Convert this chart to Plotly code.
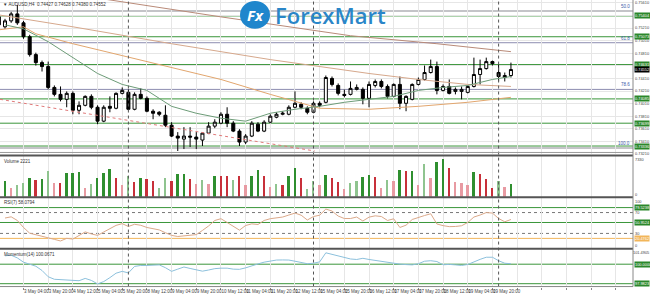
import plotly.graph_objects as go

# ---------------- data ----------------
bars = list(range(-1, 83))
opens = [0.75389, 0.75231, 0.75325, 0.75436, 0.75294, 0.75073, 0.74789, 0.74662, 0.74599, 0.74267,
         0.74157, 0.74078, 0.74173, 0.73904, 0.73983, 0.74125, 0.73952, 0.73731, 0.73967, 0.73936,
         0.74173, 0.74189, 0.73920, 0.74157, 0.74094, 0.73889, 0.73873, 0.73825, 0.73667, 0.73494,
         0.73446, 0.73494, 0.73478, 0.73431, 0.73541, 0.73652, 0.73699, 0.73841, 0.73699, 0.73573,
         0.73399, 0.73494, 0.73683, 0.73573, 0.73715, 0.73794, 0.73841, 0.73841, 0.73952, 0.73999,
         0.73936, 0.73873, 0.74015, 0.74031, 0.74410, 0.74299, 0.74157, 0.74157, 0.74236, 0.74236,
         0.74094, 0.74299, 0.74362, 0.74283, 0.74125, 0.74315, 0.74015, 0.74078, 0.74315, 0.74394,
         0.74504, 0.74599, 0.74220, 0.74283, 0.74204, 0.74204, 0.74189, 0.74283, 0.74473, 0.74567,
         0.74678, 0.74504, 0.74425, 0.74457]
highs = [0.75420, 0.75357, 0.75468, 0.75578, 0.75325, 0.75104, 0.74820, 0.74694, 0.74678, 0.74299,
         0.74283, 0.74204, 0.74204, 0.74046, 0.74141, 0.74157, 0.73983, 0.73983, 0.74125, 0.74189,
         0.74267, 0.74236, 0.74189, 0.74252, 0.74125, 0.73920, 0.73889, 0.73983, 0.73715, 0.73557,
         0.73636, 0.73636, 0.73557, 0.73557, 0.73715, 0.73762, 0.73873, 0.73952, 0.73731, 0.73604,
         0.73525, 0.73731, 0.73715, 0.73746, 0.73841, 0.73873, 0.73889, 0.73983, 0.74204, 0.74031,
         0.73967, 0.74046, 0.74046, 0.74457, 0.74441, 0.74331, 0.74236, 0.74362, 0.74315, 0.74267,
         0.74362, 0.74394, 0.74394, 0.74315, 0.74331, 0.74441, 0.74141, 0.74331, 0.74425, 0.74615,
         0.74710, 0.74678, 0.74315, 0.74394, 0.74267, 0.74283, 0.74299, 0.74741, 0.74710, 0.74741,
         0.74694, 0.74631, 0.74504, 0.74662]
lows = [0.75231, 0.75199, 0.75294, 0.75262, 0.75041, 0.74757, 0.74615, 0.74520, 0.74236, 0.74125,
        0.74046, 0.73952, 0.73841, 0.73841, 0.73967, 0.73920, 0.73683, 0.73715, 0.73873, 0.73920,
        0.74157, 0.73904, 0.73904, 0.74078, 0.73873, 0.73762, 0.73810, 0.73636, 0.73478, 0.73257,
        0.73288, 0.73320, 0.73288, 0.73336, 0.73525, 0.73620, 0.73683, 0.73636, 0.73557, 0.73336,
        0.73367, 0.73478, 0.73557, 0.73557, 0.73699, 0.73778, 0.73825, 0.73825, 0.73936, 0.73920,
        0.73841, 0.73857, 0.73952, 0.74015, 0.74283, 0.74141, 0.74110, 0.74141, 0.74220, 0.73999,
        0.73952, 0.74267, 0.74252, 0.74094, 0.74110, 0.73920, 0.73889, 0.74062, 0.74299, 0.74378,
        0.74489, 0.74157, 0.74204, 0.74157, 0.74157, 0.74078, 0.74173, 0.74267, 0.74315, 0.74552,
        0.74615, 0.74362, 0.74362, 0.74425]
closes = [0.75262, 0.75325, 0.75436, 0.75294, 0.75073, 0.74789, 0.74662, 0.74599, 0.74267, 0.74157,
          0.74078, 0.74173, 0.73904, 0.73983, 0.74125, 0.73952, 0.73731, 0.73952, 0.73936, 0.74173,
          0.74220, 0.73920, 0.74157, 0.74094, 0.73889, 0.73857, 0.73841, 0.73667, 0.73494, 0.73462,
          0.73494, 0.73478, 0.73446, 0.73541, 0.73652, 0.73715, 0.73841, 0.73699, 0.73573, 0.73399,
          0.73494, 0.73699, 0.73573, 0.73715, 0.73810, 0.73841, 0.73857, 0.73952, 0.74015, 0.73952,
          0.73873, 0.74015, 0.73983, 0.74425, 0.74315, 0.74173, 0.74141, 0.74252, 0.74267, 0.74094,
          0.74315, 0.74362, 0.74283, 0.74125, 0.74315, 0.74015, 0.74125, 0.74315, 0.74394, 0.74504,
          0.74599, 0.74220, 0.74283, 0.74173, 0.74236, 0.74236, 0.74283, 0.74473, 0.74567, 0.74678,
          0.74646, 0.74441, 0.74457, 0.74552]

vol_bars = list(range(0, 83))
volumes = [2980, 1710, 2150, 2600, 3610, 3290, 3420, 4880, 2660, 2660,
           4500, 4560, 4690, 1710, 2470, 3550, 4560, 5320, 3670, 2280,
           3930, 2790, 3550, 3420, 3100, 1650, 3610, 3040, 4370, 4310,
           3420, 2530, 3230, 2530, 3930, 3930, 3930, 3230, 3930, 2280,
           4050, 5190, 3930, 1840, 2530, 2280, 4050, 5450, 3550, 1520,
           3100, 2280, 4180, 3550, 2790, 1520, 2660, 2980, 3860, 4240,
           3860, 1650, 3290, 2980, 5130, 4880, 5000, 2280, 6270, 3610,
           6710, 7220, 5450, 2790, 2600, 2150, 4690, 4370, 3420, 1650,
           2980, 1840, 2470]
vol_kind = ["g", "lr", "lg", "lg", "g", "r", "g", "lg", "lr", "r",
            "g", "g", "g", "lr", "lg", "g", "g", "g", "r", "lr",
            "lg", "r", "g", "r", "r", "lg", "lg", "r", "g", "g",
            "r", "lr", "lg", "lr", "g", "r", "r", "lg", "r", "lr",
            "g", "g", "r", "lr", "lg", "r", "g", "g", "r", "lg",
            "lg", "lr", "g", "r", "r", "lr", "lg", "lg", "g", "g",
            "r", "lr", "lg", "lr", "g", "r", "g", "lr", "lg", "lr",
            "g", "g", "r", "lr", "lr", "lr", "g", "r", "r", "r",
            "lg", "lr", "g"]

rsi = [59.5, 61.8, 54.8, 41.4, 30.4, 27.1, 24.7, 21.8, 18.6, 15.5,
       20.5, 19.1, 26.2, 32.9, 29.0, 26.2, 32.7, 39.1, 45.4, 48.7,
       43.3, 47.5, 45.6, 41.4, 38.6, 36.7, 31.3, 26.2, 24.1, 25.2,
       26.2, 27.7, 35.7, 44.3, 54.8, 58.2, 51.0, 43.3, 36.3, 45.2,
       48.3, 47.1, 54.8, 58.2, 59.5, 61.4, 65.2, 69.0, 64.9, 55.7,
       62.4, 64.9, 76.7, 72.9, 63.3, 58.6, 58.6, 61.4, 53.8, 61.2,
       63.7, 62.4, 54.8, 58.0, 41.4, 45.8, 56.7, 60.9, 64.3, 67.7,
       48.1, 44.9, 43.0, 43.3, 44.7, 51.0, 61.4, 65.2, 70.0, 69.0,
       58.6, 52.3, 56.7]
momentum = [100.87, 100.93, 100.65, 100.21, 100.00, 99.79, 99.35, 98.70, 98.44, 98.39,
            98.39, 98.28, 98.29, 98.53, 98.32, 97.96, 98.20, 98.61, 99.07, 99.26,
            99.10, 99.77, 99.87, 99.87, 99.90, 99.93, 99.64, 99.26, 99.49, 99.71,
            99.56, 99.38, 99.28, 99.40, 99.54, 99.59, 99.59, 99.49, 99.47, 99.62,
            99.85, 100.03, 100.21, 100.31, 100.43, 100.44, 100.43, 100.31, 100.17, 100.05,
            100.10, 100.24, 101.18, 101.03, 100.84, 100.70, 100.54, 100.49, 100.61, 100.49,
            100.38, 100.34, 100.19, 100.06, 100.01, 99.96, 99.93, 100.05, 100.31, 100.36,
            100.28, 99.94, 99.98, 99.93, 99.87, 99.97, 100.27, 100.50, 100.72, 100.72,
            100.36, 100.10, 100.05]

# moving averages (read at sampled bars)
ma_fast_bars = [0, 3, 7, 11, 15, 19, 23, 27, 31, 35, 39, 43, 47, 51, 55, 59, 63, 67, 71, 75, 79, 82]
ma_fast = [0.75262, 0.75199, 0.74994, 0.74741, 0.74489, 0.74315, 0.74220, 0.73967, 0.73857, 0.73778,
           0.73731, 0.73857, 0.73920, 0.73967, 0.74031, 0.74078, 0.74125, 0.74220, 0.74267, 0.74299,
           0.74394, 0.74441]
ma_mid_bars = [-1, 3, 5, 11, 19, 27, 35, 43, 51, 59, 67, 75, 82]
ma_mid = [0.75183, 0.75231, 0.75120, 0.74962, 0.74773, 0.74583, 0.74394, 0.74157, 0.73936, 0.73920,
          0.73967, 0.74031, 0.74110]
ma_slow_bars = [-1, 11, 27, 43, 59, 67, 75, 82]
ma_slow = [0.75420, 0.75231, 0.74962, 0.74710, 0.74489, 0.74394, 0.74315, 0.74283]
ma_long_bars = [-1, 16, 35, 56, 70, 82]
ma_long = [0.75910, 0.75673, 0.75389, 0.75089, 0.74962, 0.74836]

trend_bars = [-0.8, 50.2]
trend_vals = [0.74078, 0.73257]

green_levels = [0.75404, 0.75073, 0.74631, 0.74085, 0.73699, 0.73336]
fib_levels = [0.75483, 0.74978, 0.74236, 0.73304]
fib_names = ["50.0", "61.8", "78.6", "100.0"]
last_price = 0.74552

rsi_green = [79.5238, 50.9524]
rsi_orange = 20.4762
rsi_dotted = [70, 30]
mom_green = [100.0, 97.9823]

price_ticks = [0.75610, 0.75410, 0.75210, 0.75010, 0.74810, 0.74610, 0.74410, 0.74210,
               0.74010, 0.73810, 0.73610, 0.73410, 0.73210]
label_bars = list(range(-1, 100, 4))
label_text = ["2 May 2017", "3 May 04:00", "3 May 20:00", "4 May 12:00", "5 May 04:00",
              "5 May 20:00", "8 May 12:00", "9 May 04:00", "9 May 20:00", "10 May 12:00",
              "11 May 04:00", "11 May 20:00", "12 May 12:00", "15 May 04:00", "15 May 20:00",
              "16 May 12:00", "17 May 04:00", "17 May 20:00", "18 May 12:00", "19 May 04:00",
              "19 May 20:00"]
separator_bars = [20, 50, 80]

# side scale labels of the indicator panels: (text, pixel row of its centre)
panel_scale_labels = [("7330", 160.5), ("0", 195.5), ("100", 202.5), ("0", 247.5), ("101.4905", 254.5)]

header = "▼ AUDUSD,H4  0.74427 0.74628 0.74380 0.74552"
vol_title = "Volume 2221"
rsi_title = "RSI(7) 58.0794"
mom_title = "Momentum(14) 100.0671"

# ---------------- layout geometry ----------------
W, H = 650, 296
PR = 633  # right edge of plot area (px)
def py(p):
    return 1 - p / H

XR = [-0.81, -0.81 + PR / 6.17]
dom_main = [py(155), 1.0]
dom_vol = [py(198), py(157)]
dom_rsi = [py(250.75), py(198.25)]
dom_mom = [py(288.5), py(251.5)]

vol_colors = {"g": "#2f8f2f", "lg": "#8fc48f", "r": "#c8303a", "lr": "#e89aa2"}
GREEN = "#3a963a"
GREEN_BG = "#2b872b"
FONT = "Liberation Sans"
FS = 4.5
FSR = 3.9  # right-scale labels

fig = go.Figure()

# main panel
fig.add_trace(go.Scatter(x=trend_bars, y=trend_vals, mode="lines",
                         line=dict(color="#e07a7a", width=1, dash="dot"), xaxis="x", yaxis="y"))
fig.add_trace(go.Scatter(x=ma_long_bars, y=ma_long, mode="lines", line=dict(color="#b98a78", width=1),
                         xaxis="x", yaxis="y"))
fig.add_trace(go.Scatter(x=ma_slow_bars, y=ma_slow, mode="lines", line=dict(color="#d6a88c", width=1),
                         xaxis="x", yaxis="y"))
fig.add_trace(go.Scatter(x=ma_mid_bars, y=ma_mid, mode="lines", line=dict(color="#e2a66e", width=1),
                         xaxis="x", yaxis="y"))
fig.add_trace(go.Scatter(x=ma_fast_bars, y=ma_fast, mode="lines", line=dict(color="#6d9c78", width=1),
                         xaxis="x", yaxis="y"))
fig.add_trace(go.Candlestick(x=bars, open=opens, high=highs, low=lows, close=closes,
                             increasing=dict(line=dict(color="#000000", width=1), fillcolor="#ffffff"),
                             decreasing=dict(line=dict(color="#000000", width=1), fillcolor="#000000"),
                             whiskerwidth=0, xaxis="x", yaxis="y"))

# volume
fig.add_trace(go.Bar(x=vol_bars, y=volumes, width=0.3,
                     marker=dict(color=[vol_colors[k] for k in vol_kind], line=dict(width=0)),
                     xaxis="x2", yaxis="y2"))
# rsi
fig.add_trace(go.Scatter(x=vol_bars, y=rsi, mode="lines", line=dict(color="#dba98a", width=1),
                         xaxis="x3", yaxis="y3"))
# momentum
fig.add_trace(go.Scatter(x=vol_bars, y=momentum, mode="lines", line=dict(color="#8cc0dc", width=1),
                         xaxis="x4", yaxis="y4"))

shapes = []
# horizontal levels
for lv in green_levels:
    shapes.append(dict(type="line", xref="paper", x0=0, x1=PR / W, yref="y", y0=lv, y1=lv,
                       line=dict(color=GREEN, width=1), layer="below"))
for lv, nm in zip(fib_levels, fib_names):
    wide = nm in ("50.0", "100.0")
    shapes.append(dict(type="line", xref="paper", x0=0, x1=PR / W, yref="y", y0=lv, y1=lv,
                       line=dict(color="#c4c4c8" if wide else "#8c8cb0", width=2 if wide else 1),
                       layer="below"))
for lv in rsi_green:
    shapes.append(dict(type="line", xref="paper", x0=0, x1=PR / W, yref="y3", y0=lv, y1=lv,
                       line=dict(color=GREEN, width=1), layer="below"))
for lv in rsi_dotted:
    shapes.append(dict(type="line", xref="paper", x0=0, x1=PR / W, yref="y3", y0=lv, y1=lv,
                       line=dict(color="#777777", width=1, dash="dot"), layer="below"))
shapes.append(dict(type="line", xref="paper", x0=0, x1=PR / W, yref="y3", y0=rsi_orange, y1=rsi_orange,
                   line=dict(color="#f2b65a", width=1), layer="below"))
for lv in mom_green:
    shapes.append(dict(type="line", xref="paper", x0=0, x1=PR / W, yref="y4", y0=lv, y1=lv,
                       line=dict(color=GREEN, width=1), layer="below"))
# period separators
for b in separator_bars:
    shapes.append(dict(type="line", xref="x", x0=b, x1=b, yref="paper", y0=dom_mom[0], y1=1,
                       line=dict(color="#555555", width=1, dash="dot")))
# panel separators / frame
for yp, wdt, col in [(153.5, 1, "#9a9a9a"), (156.5, 2, "#555555"), (198.5, 2, "#555555"),
                     (250.5, 2, "#555555"), (288.5, 1, "#888888")]:
    shapes.append(dict(type="line", xref="paper", x0=0, x1=PR / W, yref="paper", y0=py(yp), y1=py(yp),
                       line=dict(color=col, width=wdt)))
shapes.append(dict(type="line", xref="paper", x0=PR / W, x1=PR / W, yref="paper", y0=py(288.5), y1=1,
                   line=dict(color="#888888", width=1)))
# logo circle
shapes.append(dict(type="circle", xref="paper", yref="paper", x0=240 / W, x1=270 / W,
                   y0=py(29), y1=py(1), fillcolor="#1f86cc", line=dict(width=0)))

annotations = []
def rlabel(yref, val, text, bg, fg="#ffffff"):
    annotations.append(dict(xref="paper", x=(PR + 1) / W, xanchor="left", yref=yref, y=val,
                            yanchor="middle", text=text, showarrow=False, bgcolor=bg,
                            font=dict(size=FSR, color=fg, family=FONT), borderpad=0))

for lv in green_levels:
    rlabel("y", lv, f"{lv:.5f}", GREEN_BG)
rlabel("y", last_price, f"{last_price:.5f}", "#000000")
for lv in rsi_green:
    rlabel("y3", lv, f"{lv:.4f}", GREEN_BG)
rlabel("y3", rsi_orange, f"{rsi_orange:.4f}", "#f2b65a")
for lv in mom_green:
    rlabel("y4", lv, f"{lv:.4f}", GREEN_BG)
for lv, nm in zip(fib_levels, fib_names):
    annotations.append(dict(xref="paper", x=(PR - 1) / W, xanchor="right", yref="y", y=lv,
                            yanchor="bottom", text=nm, showarrow=False,
                            font=dict(size=FS, color="#3a5aa8", family=FONT)))
for txt, ypx in panel_scale_labels:
    long_txt = len(txt) > 6
    annotations.append(dict(xref="paper", x=1.0 if long_txt else (PR + 1) / W,
                            xanchor="right" if long_txt else "left", yref="paper", y=py(ypx),
                            yanchor="middle", text=txt, showarrow=False, borderpad=0,
                            font=dict(size=FSR, color="#444444", family=FONT)))

def tlabel(xp, ypx, text, size=FS, color="#333333"):
    annotations.append(dict(xref="paper", x=xp / W, xanchor="left", yref="paper", y=py(ypx),
                            yanchor="top", text=text, showarrow=False,
                            font=dict(size=size, color=color, family=FONT)))
tlabel(1, 0.5, header)
tlabel(2, 158.5, vol_title)
tlabel(2, 199.5, rsi_title)
tlabel(2, 252, mom_title)

# logo text
annotations.append(dict(xref="paper", x=255 / W, xanchor="center", yref="paper", y=py(15),
                        yanchor="middle", text="<i><b>Fx</b></i>", showarrow=False,
                        font=dict(size=15, color="#ffffff", family="Open Sans")))
annotations.append(dict(xref="paper", x=273 / W, xanchor="left", yref="paper", y=py(15),
                        yanchor="middle", text="ForexMart", showarrow=False,
                        font=dict(size=22, color="#2a86c8", family="Open Sans", weight=600)))

grid = "#e6e6e6"
xcommon = dict(range=XR, domain=[0, PR / W], showgrid=True, gridcolor=grid, gridwidth=1,
               tickvals=label_bars, zeroline=False, showline=False, fixedrange=True)
ycommon = dict(side="right", showline=False, zeroline=False, ticks="", fixedrange=True,
               ticklabelstandoff=1, tickfont=dict(size=FSR, color="#444444", family=FONT))

fig.update_layout(
    width=W, height=H, margin=dict(l=0, r=0, t=0, b=0),
    paper_bgcolor="#ffffff", plot_bgcolor="#ffffff", showlegend=False,
    xaxis=dict(**xcommon, anchor="y", showticklabels=False, rangeslider=dict(visible=False)),
    xaxis2=dict(**xcommon, anchor="y2", showticklabels=False, matches="x"),
    xaxis3=dict(**xcommon, anchor="y3", showticklabels=False, matches="x"),
    xaxis4=dict(**xcommon, anchor="y4", showticklabels=True, matches="x",
                ticktext=label_text + [""] * (len(label_bars) - len(label_text)),
                ticks="outside", ticklen=2, tickcolor="#888888", tickangle=0,
                ticklabelposition="outside right",
                tickfont=dict(size=FS, color="#444444", family=FONT)),
    yaxis=dict(**ycommon, domain=dom_main, range=[0.73210, 0.75657], showgrid=True,
               gridcolor=grid, tickvals=price_ticks, ticktext=[f"{v:.5f}" for v in price_ticks]),
    yaxis2=dict(**ycommon, domain=dom_vol, range=[0, 7790], showgrid=False, showticklabels=False),
    yaxis3=dict(**ycommon, domain=dom_rsi, range=[0, 100], showgrid=False,
                tickvals=rsi_dotted, ticktext=[str(v) for v in rsi_dotted]),
    yaxis4=dict(**ycommon, domain=dom_mom, range=[97.687, 101.4905], showgrid=False,
                showticklabels=False),
    shapes=shapes, annotations=annotations, bargap=0,
)

fig.write_html("out.html")
